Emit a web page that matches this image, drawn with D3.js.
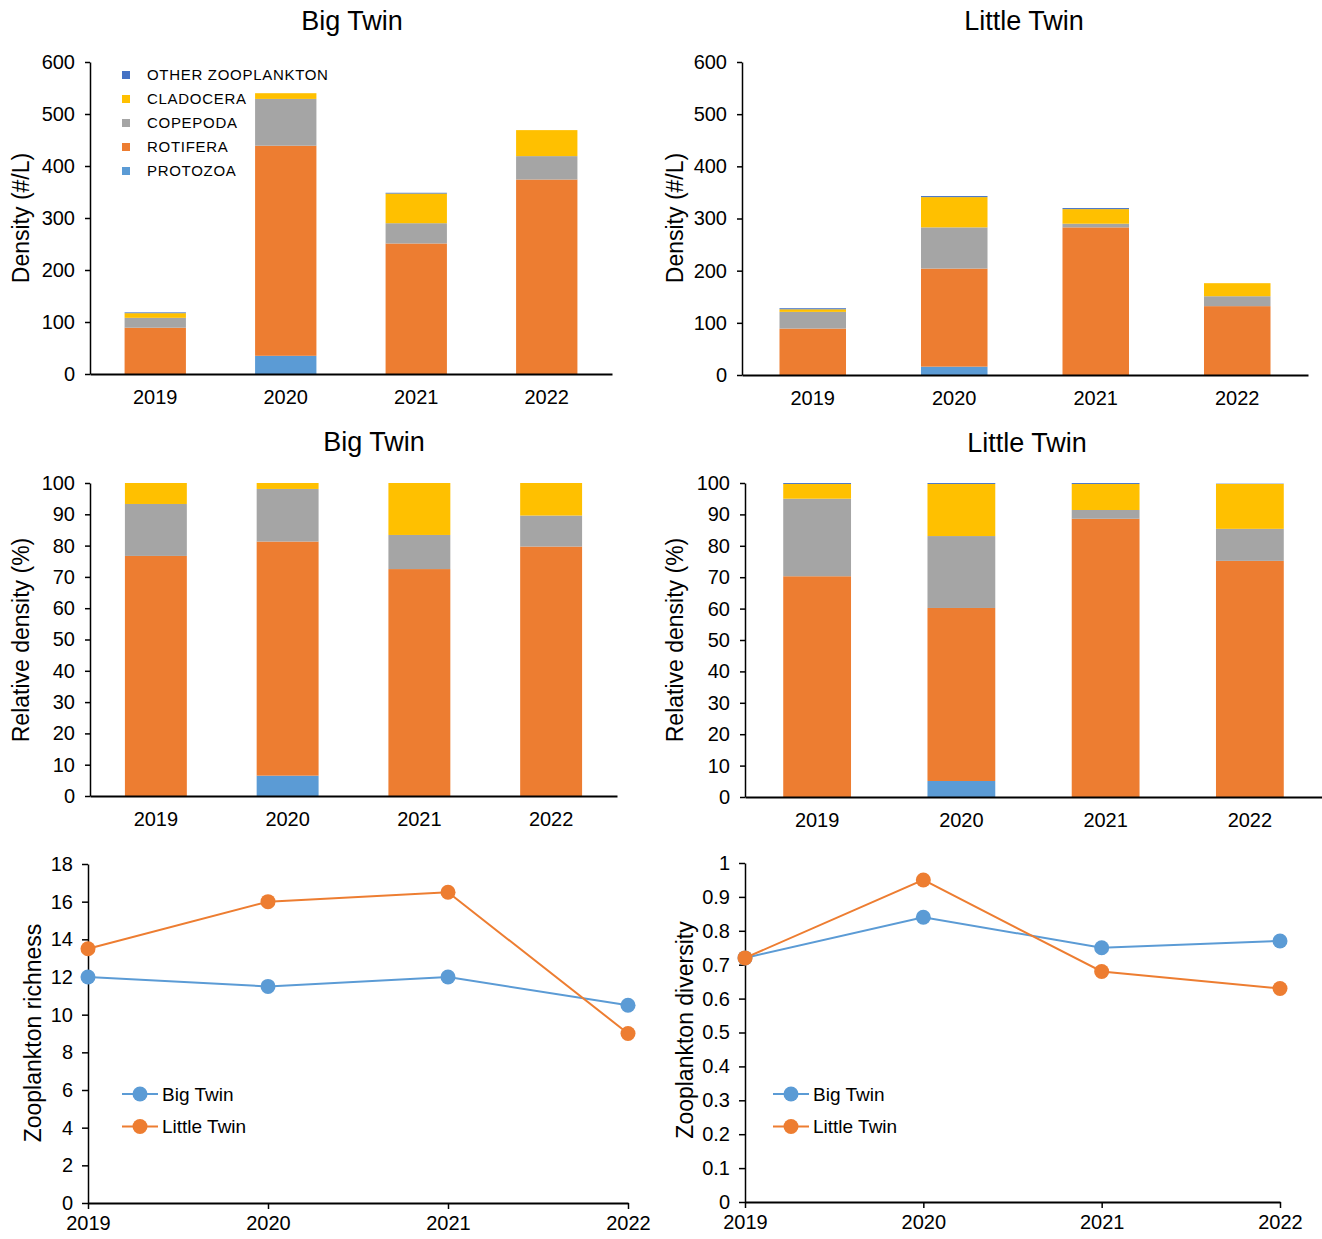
<!DOCTYPE html>
<meta charset="utf-8">
<html>
<script src="https://d3js.org/d3.v7.min.js"></script>
<style>
  body { margin: 0; background: #fff; }
  text { font-family: "Liberation Sans", Arial, sans-serif; fill: #000; }
</style>
<div id="chart"></div>
<script>

// categories
var years = ["2019", "2020", "2021", "2022"];
var groups = ["PROTOZOA", "ROTIFERA", "COPEPODA", "CLADOCERA", "OTHER ZOOPLANKTON"];
var legendOrder = ["OTHER ZOOPLANKTON", "CLADOCERA", "COPEPODA", "ROTIFERA", "PROTOZOA"];

// Big Twin density (#/L), per group, by year
var bigProtozoa  = [0, 35, 0, 0];
var bigRotifera  = [89, 404, 251, 374];
var bigCopepoda  = [19, 90, 39, 45];
var bigCladocera = [9, 11, 57, 50];
var bigOther     = [1.5, 0, 1.5, 0];

// Little Twin density (#/L)
var litProtozoa  = [0, 16, 0, 0];
var litRotifera  = [89, 188, 283, 132];
var litCopepoda  = [32, 79, 7, 19];
var litCladocera = [5, 58, 28, 25];
var litOther     = [2, 2, 2, 0];

// Big Twin relative density (%)
var bigRelProtozoa  = [0, 6.5, 0, 0];
var bigRelRotifera  = [76.7, 74.8, 72.5, 79.7];
var bigRelCopepoda  = [16.6, 16.8, 10.9, 9.9];
var bigRelCladocera = [6.7, 1.9, 16.6, 10.4];
var bigRelOther     = [0, 0, 0, 0];

// Little Twin relative density (%)
var litRelProtozoa  = [0, 5.1, 0, 0];
var litRelRotifera  = [70.3, 55.1, 88.6, 75.2];
var litRelCopepoda  = [24.7, 22.9, 2.8, 10.2];
var litRelCladocera = [4.7, 16.6, 8.3, 14.3];
var litRelOther     = [0.3, 0.3, 0.3, 0.1];

// richness and diversity
var richnessBig    = [12, 11.5, 12, 10.5];
var richnessLittle = [13.5, 16, 16.5, 9];
var diversityBig    = [0.72, 0.84, 0.75, 0.77];
var diversityLittle = [0.72, 0.95, 0.68, 0.63];

var color = d3.scaleOrdinal()
  .domain(groups)
  .range(["#5B9BD5", "#ED7D31", "#A5A5A5", "#FFC000", "#4472C4"]);

var blue = "#5B9BD5", orange = "#ED7D31";

var svg = d3.select("#chart").append("svg")
  .attr("width", 1322)
  .attr("height", 1239);

// turn the per-group arrays into rows for d3.stack
function rows(prot, rot, cop, clad, oth) {
  return years.map(function(y, i) {
    return { year: y, "PROTOZOA": prot[i], "ROTIFERA": rot[i], "COPEPODA": cop[i],
             "CLADOCERA": clad[i], "OTHER ZOOPLANKTON": oth[i] };
  });
}

function stackedChart(opt) {
  var x = d3.scaleBand().domain(years).range([opt.x0, opt.x1])
    .paddingInner(0.53).paddingOuter(0.265);
  var y = d3.scaleLinear().domain(opt.domain).range([opt.y1, opt.y0]);

  var series = d3.stack().keys(groups)(opt.data);
  var g = svg.append("g");

  g.selectAll("g.layer")
    .data(series)
    .enter().append("g")
      .attr("class", "layer")
      .attr("fill", function(d) { return color(d.key); })
    .selectAll("rect")
    .data(function(d) { return d; })
    .enter().append("rect")
      .attr("x", function(d) { return x(d.data.year); })
      .attr("width", x.bandwidth())
      .attr("y", function(d) { return y(d[1]); })
      .attr("height", function(d) { return Math.max(0, y(d[0]) - y(d[1])); });

  var ya = g.append("g")
    .attr("transform", "translate(" + opt.x0 + ",0)")
    .call(d3.axisLeft(y).tickValues(opt.ticks).tickSize(5).tickPadding(10).tickSizeOuter(0));
  ya.select(".domain").attr("stroke", "#000").attr("stroke-width", 1.5);
  ya.selectAll("line").attr("stroke", "#000").attr("stroke-width", 1.5);
  ya.selectAll("text").style("font-size", "20px");

  var xa = g.append("g")
    .attr("transform", "translate(0," + opt.y1 + ")")
    .call(d3.axisBottom(x).tickSize(0).tickPadding(16));
  xa.select(".domain").attr("stroke", "#000").attr("stroke-width", 2);
  xa.selectAll("text").style("font-size", "20px");

  svg.append("text")
    .attr("x", opt.titleX).attr("y", opt.titleY)
    .attr("text-anchor", "middle")
    .style("font-size", "27px")
    .text(opt.title);

  svg.append("text")
    .attr("transform", "translate(" + opt.labelX + "," + opt.labelY + ") rotate(-90)")
    .attr("text-anchor", "middle")
    .attr("dy", "0.35em")
    .style("font-size", "23px")
    .text(opt.label);
}

function lineChart(opt) {
  var x = d3.scalePoint().domain(years).range([opt.x0, opt.x1]);
  var y = d3.scaleLinear().domain(opt.domain).range([opt.y1, opt.y0]);
  var g = svg.append("g");

  var ya = g.append("g")
    .attr("transform", "translate(" + opt.x0 + ",0)")
    .call(d3.axisLeft(y).tickValues(opt.ticks).tickFormat(opt.fmt).tickSize(6).tickPadding(9).tickSizeOuter(0));
  ya.select(".domain").attr("stroke", "#000").attr("stroke-width", 1.5);
  ya.selectAll("line").attr("stroke", "#000").attr("stroke-width", 1.5);
  ya.selectAll("text").style("font-size", "20px");

  var xa = g.append("g")
    .attr("transform", "translate(0," + opt.y1 + ")")
    .call(d3.axisBottom(x).tickSize(6).tickPadding(7).tickSizeOuter(0));
  xa.select(".domain").attr("stroke", "#000").attr("stroke-width", 2);
  xa.selectAll("line").attr("stroke", "#000").attr("stroke-width", 1.5);
  xa.selectAll("text").style("font-size", "20px");

  var line = d3.line()
    .x(function(d, i) { return x(years[i]); })
    .y(function(d) { return y(d); });

  [[opt.big, blue], [opt.little, orange]].forEach(function(s) {
    g.append("path")
      .datum(s[0])
      .attr("d", line)
      .attr("fill", "none")
      .attr("stroke", s[1])
      .attr("stroke-width", 2);
    g.selectAll(null)
      .data(s[0])
      .enter().append("circle")
        .attr("cx", function(d, i) { return x(years[i]); })
        .attr("cy", function(d) { return y(d); })
        .attr("r", 7.5)
        .attr("fill", s[1]);
  });

  // legend
  var leg = svg.selectAll(null)
    .data([["Big Twin", blue], ["Little Twin", orange]])
    .enter().append("g")
      .attr("transform", function(d, i) { return "translate(" + opt.legX + "," + (opt.legY + i * 32.5) + ")"; });
  leg.append("line")
    .attr("x1", 0).attr("x2", 36)
    .attr("stroke", function(d) { return d[1]; })
    .attr("stroke-width", 2);
  leg.append("circle")
    .attr("cx", 18).attr("r", 7.5)
    .attr("fill", function(d) { return d[1]; });
  leg.append("text")
    .attr("x", 40).attr("dy", "0.35em")
    .style("font-size", "19px")
    .text(function(d) { return d[0]; });

  svg.append("text")
    .attr("transform", "translate(" + opt.labelX + "," + opt.labelY + ") rotate(-90)")
    .attr("text-anchor", "middle")
    .attr("dy", "0.35em")
    .style("font-size", "23px")
    .text(opt.label);
}

var densTicks = d3.range(0, 601, 100);
var relTicks = d3.range(0, 101, 10);

stackedChart({ data: rows(bigProtozoa, bigRotifera, bigCopepoda, bigCladocera, bigOther),
  x0: 90, x1: 612, y0: 62, y1: 374, domain: [0, 600], ticks: densTicks,
  title: "Big Twin", titleX: 352, titleY: 30, label: "Density (#/L)", labelX: 21, labelY: 218 });

stackedChart({ data: rows(litProtozoa, litRotifera, litCopepoda, litCladocera, litOther),
  x0: 742, x1: 1308, y0: 62, y1: 375, domain: [0, 600], ticks: densTicks,
  title: "Little Twin", titleX: 1024, titleY: 30, label: "Density (#/L)", labelX: 675, labelY: 218 });

stackedChart({ data: rows(bigRelProtozoa, bigRelRotifera, bigRelCopepoda, bigRelCladocera, bigRelOther),
  x0: 90, x1: 617, y0: 483, y1: 796, domain: [0, 100], ticks: relTicks,
  title: "Big Twin", titleX: 374, titleY: 451, label: "Relative density (%)", labelX: 21, labelY: 640 });

stackedChart({ data: rows(litRelProtozoa, litRelRotifera, litRelCopepoda, litRelCladocera, litRelOther),
  x0: 745, x1: 1322, y0: 483, y1: 797, domain: [0, 100], ticks: relTicks,
  title: "Little Twin", titleX: 1027, titleY: 452, label: "Relative density (%)", labelX: 675, labelY: 640 });

// legend for density charts
var bleg = svg.selectAll(".bleg")
  .data(legendOrder)
  .enter().append("g")
    .attr("class", "bleg")
    .attr("transform", function(d, i) { return "translate(122," + (75 + i * 24) + ")"; });
bleg.append("rect")
  .attr("x", 0).attr("y", -4)
  .attr("width", 8).attr("height", 8)
  .attr("fill", function(d) { return color(d); });
bleg.append("text")
  .attr("x", 25).attr("dy", "0.35em")
  .style("font-size", "15px")
  .style("letter-spacing", "0.7px")
  .attr("fill", "#262626")
  .text(function(d) { return d; });

lineChart({ big: richnessBig, little: richnessLittle,
  x0: 88, x1: 628, y0: 864, y1: 1203, domain: [0, 18], ticks: d3.range(0, 19, 2), fmt: d3.format("d"),
  legX: 122, legY: 1094, label: "Zooplankton richness", labelX: 33, labelY: 1033 });

lineChart({ big: diversityBig, little: diversityLittle,
  x0: 745, x1: 1280, y0: 863, y1: 1202, domain: [0, 1], ticks: d3.range(0, 11).map(function(i) { return i / 10; }),
  fmt: function(d) { return d === 0 ? "0" : d === 1 ? "1" : d3.format(".1f")(d); },
  legX: 773, legY: 1094, label: "Zooplankton diversity", labelX: 685, labelY: 1030 });

</script>
</html>
